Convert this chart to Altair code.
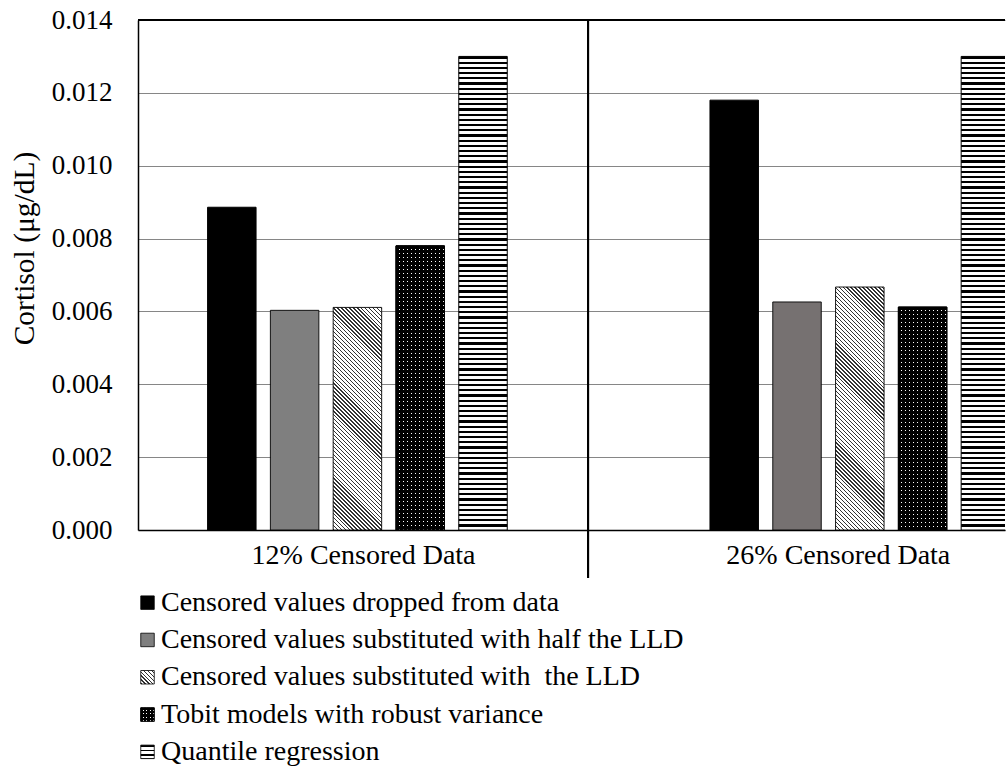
import math
import altair as alt
import pandas as pd

# ---- data -------------------------------------------------------------
groups = ["12% Censored Data", "26% Censored Data"]
methods = [
    "Censored values dropped from data",
    "Censored values substituted with half the LLD",
    "Censored values substituted with\u00a0 the LLD",
    "Tobit models with robust variance",
    "Quantile regression",
]
values_12 = [0.00886, 0.00603, 0.00611, 0.00780, 0.01300]
values_26 = [0.01180, 0.00626, 0.00667, 0.00612, 0.01300]
y_ticks = [0.000, 0.002, 0.004, 0.006, 0.008, 0.010, 0.012, 0.014]
y_title = "Cortisol (\u03bcg/dL)"

series = [values_12, values_26]

# ---- layout -----------------------------------------------------------
PLOT_W = 867
PLOT_H = 510
Y_MAX = 0.014
SLOTS_PER_GROUP = 8          # bar slots between the first bars of two groups
X_DOMAIN = [-1.494, 12.312]  # in bar slots
BAR_HALF = 0.386             # half bar width, in bar slots
DIVIDER = 5.672              # category boundary, in bar slots
LABEL_POS = [2.09, 9.65]     # category label centres, in bar slots
FONT = "Liberation Serif"

PX_PER_SLOT = PLOT_W / (X_DOMAIN[1] - X_DOMAIN[0])
BAR_W_PX = 2 * BAR_HALF * PX_PER_SLOT


def bar_h_px(v):
    return v * PLOT_H / Y_MAX


# ---- pattern fills built from linear gradients ---------------------------
def _stripes(x1, y1, x2, y2, t_end, dt, frac, on, off):
    stops = []
    t = 0.0
    while t < t_end - 1e-9:
        a = round(min(t, 1.0), 5)
        b = round(min(t + frac * dt, 1.0), 5)
        c = round(min(t + dt, 1.0), 5)
        stops += [
            {"offset": a, "color": on},
            {"offset": b, "color": on},
            {"offset": b, "color": off},
            {"offset": c, "color": off},
        ]
        t += dt
    return {"gradient": "linear", "x1": x1, "y1": y1, "x2": x2, "y2": y2,
            "stops": stops}


def h_lines(h, period, frac, on="black", off="white"):
    return _stripes(0, 0, 0, 1, 1.0, period / h, frac, on, off)


def v_lines(w, period, frac, on="black", off="white"):
    return _stripes(0, 0, 1, 0, 1.0, period / w, frac, on, off)


def diag_lines(w, h, period, frac, on="#333333", off="white"):
    # lines running from upper left to lower right at 45 degrees
    d = w * w + h * h
    t_end = min(1.0, (w + h) * w / d)
    dt = math.sqrt(2) * period * w / d
    return _stripes(0, 1, 1, round(1 - h / w, 5), t_end, dt, frac, on, off)


GRAYS = ["#7f7f7f", "#767171"]

# ---- plot -------------------------------------------------------------
rows = []
for gi, (g, vals) in enumerate(zip(groups, series)):
    for mi, (m, v) in enumerate(zip(methods, vals)):
        rows.append({"group": g, "gi": gi, "method": m, "mi": mi, "value": v})
df = pd.DataFrame(rows)

xs = alt.Scale(domain=X_DOMAIN, nice=False, zero=False)
ys = alt.Scale(domain=[0, Y_MAX], nice=False, zero=True)

label_expr = f"datum.value < {DIVIDER} ? '{groups[0]}' : '{groups[1]}'"
x_axis = alt.Axis(
    values=LABEL_POS, labelExpr=label_expr, title=None, grid=False,
    ticks=False, domainColor="black", domainWidth=1.5,
    labelFont=FONT, labelFontSize=28, labelColor="black",
    labelPadding=11, labelFlush=False, labelOverlap=False, labelLimit=0,
)
y_axis = alt.Axis(
    values=y_ticks, format=".3f", title=y_title, grid=True,
    gridColor="#868686", gridWidth=1.2, ticks=False,
    domainColor="black", domainWidth=1.5,
    labelFont=FONT, labelFontSize=27, labelColor="black", labelPadding=26,
    titleFont=FONT, titleFontSize=29.5, titleFontWeight="normal",
    titleColor="black", titleAngle=-90, titleAlign="center",
    titleBaseline="middle", titleX=-113.5, titleY=228,
)

base = alt.Chart(df).transform_calculate(
    lo=f"datum.gi * {SLOTS_PER_GROUP} + datum.mi - {BAR_HALF}",
    hi=f"datum.gi * {SLOTS_PER_GROUP} + datum.mi + {BAR_HALF}",
)


def bar(gi, mi, fill, sw=1.0):
    return base.transform_filter(
        f"datum.gi == {gi} && datum.mi == {mi}"
    ).mark_rect(fill=fill, stroke="black", strokeWidth=sw, clip=True).encode(
        x=alt.X("lo:Q", scale=xs, axis=x_axis),
        x2="hi:Q",
        y=alt.Y("value:Q", scale=ys, axis=y_axis),
        y2=alt.Y2(datum=0),
    )


layers = []
for gi, vals in enumerate(series):
    layers.append(bar(gi, 0, "black"))
    layers.append(bar(gi, 1, GRAYS[gi], sw=0.9))
    layers.append(bar(gi, 2, diag_lines(BAR_W_PX, bar_h_px(vals[2]), 2.8, 0.34), sw=0.9))
    layers.append(bar(gi, 3, v_lines(BAR_W_PX, 4.0, 0.68)))
    layers.append(bar(gi, 3, h_lines(bar_h_px(vals[3]), 4.0, 0.68, off="transparent")))
    layers.append(bar(gi, 4, h_lines(bar_h_px(vals[4]), 5.2, 0.42)))

top_border = alt.Chart(df).mark_rule(color="black", strokeWidth=1.5).encode(
    y=alt.value(0)
)
divider = alt.Chart(df).mark_rule(color="black", strokeWidth=2).encode(
    x=alt.X(datum=DIVIDER, scale=xs, axis=x_axis),
    y=alt.value(0),
    y2=alt.value(PLOT_H + 48),
)

plot = alt.layer(*layers, top_border, divider).properties(
    width=PLOT_W, height=PLOT_H
)

# ---- legend -----------------------------------------------------------
SYM = 13.5
legend_df = pd.DataFrame({"method": methods, "mi": list(range(len(methods)))})
leg_y = alt.Y("method:N", sort=methods, axis=None)
legend_fills = [
    ["black"],
    [GRAYS[0]],
    [diag_lines(SYM, SYM, 2.8, 0.34)],
    [v_lines(SYM, 3.3, 0.66), h_lines(SYM, 3.3, 0.66, off="transparent")],
    [h_lines(SYM, 4.4, 0.42)],
]
legend_layers = []
for mi, fills in enumerate(legend_fills):
    for f in fills:
        legend_layers.append(
            alt.Chart(legend_df).transform_filter(f"datum.mi == {mi}").mark_square(
                size=SYM * SYM, filled=True, fill=f, stroke="black",
                strokeWidth=0.8, opacity=1,
            ).encode(x=alt.value(9.5), y=leg_y)
        )
legend_text = alt.Chart(legend_df).mark_text(
    align="left", baseline="middle", font=FONT, fontSize=28, color="black"
).encode(x=alt.value(23), y=leg_y, text="method:N")

legend = alt.layer(*legend_layers, legend_text).properties(
    width=600, height=186.5
)

chart = alt.vconcat(plot, legend, spacing=54, bounds="flush").configure_view(
    stroke=None
).properties(
    background="white",
    padding={"left": 9, "top": 6, "right": 0, "bottom": 0},
)

chart.save("out.html", embed_options={"renderer": "svg", "actions": False})
